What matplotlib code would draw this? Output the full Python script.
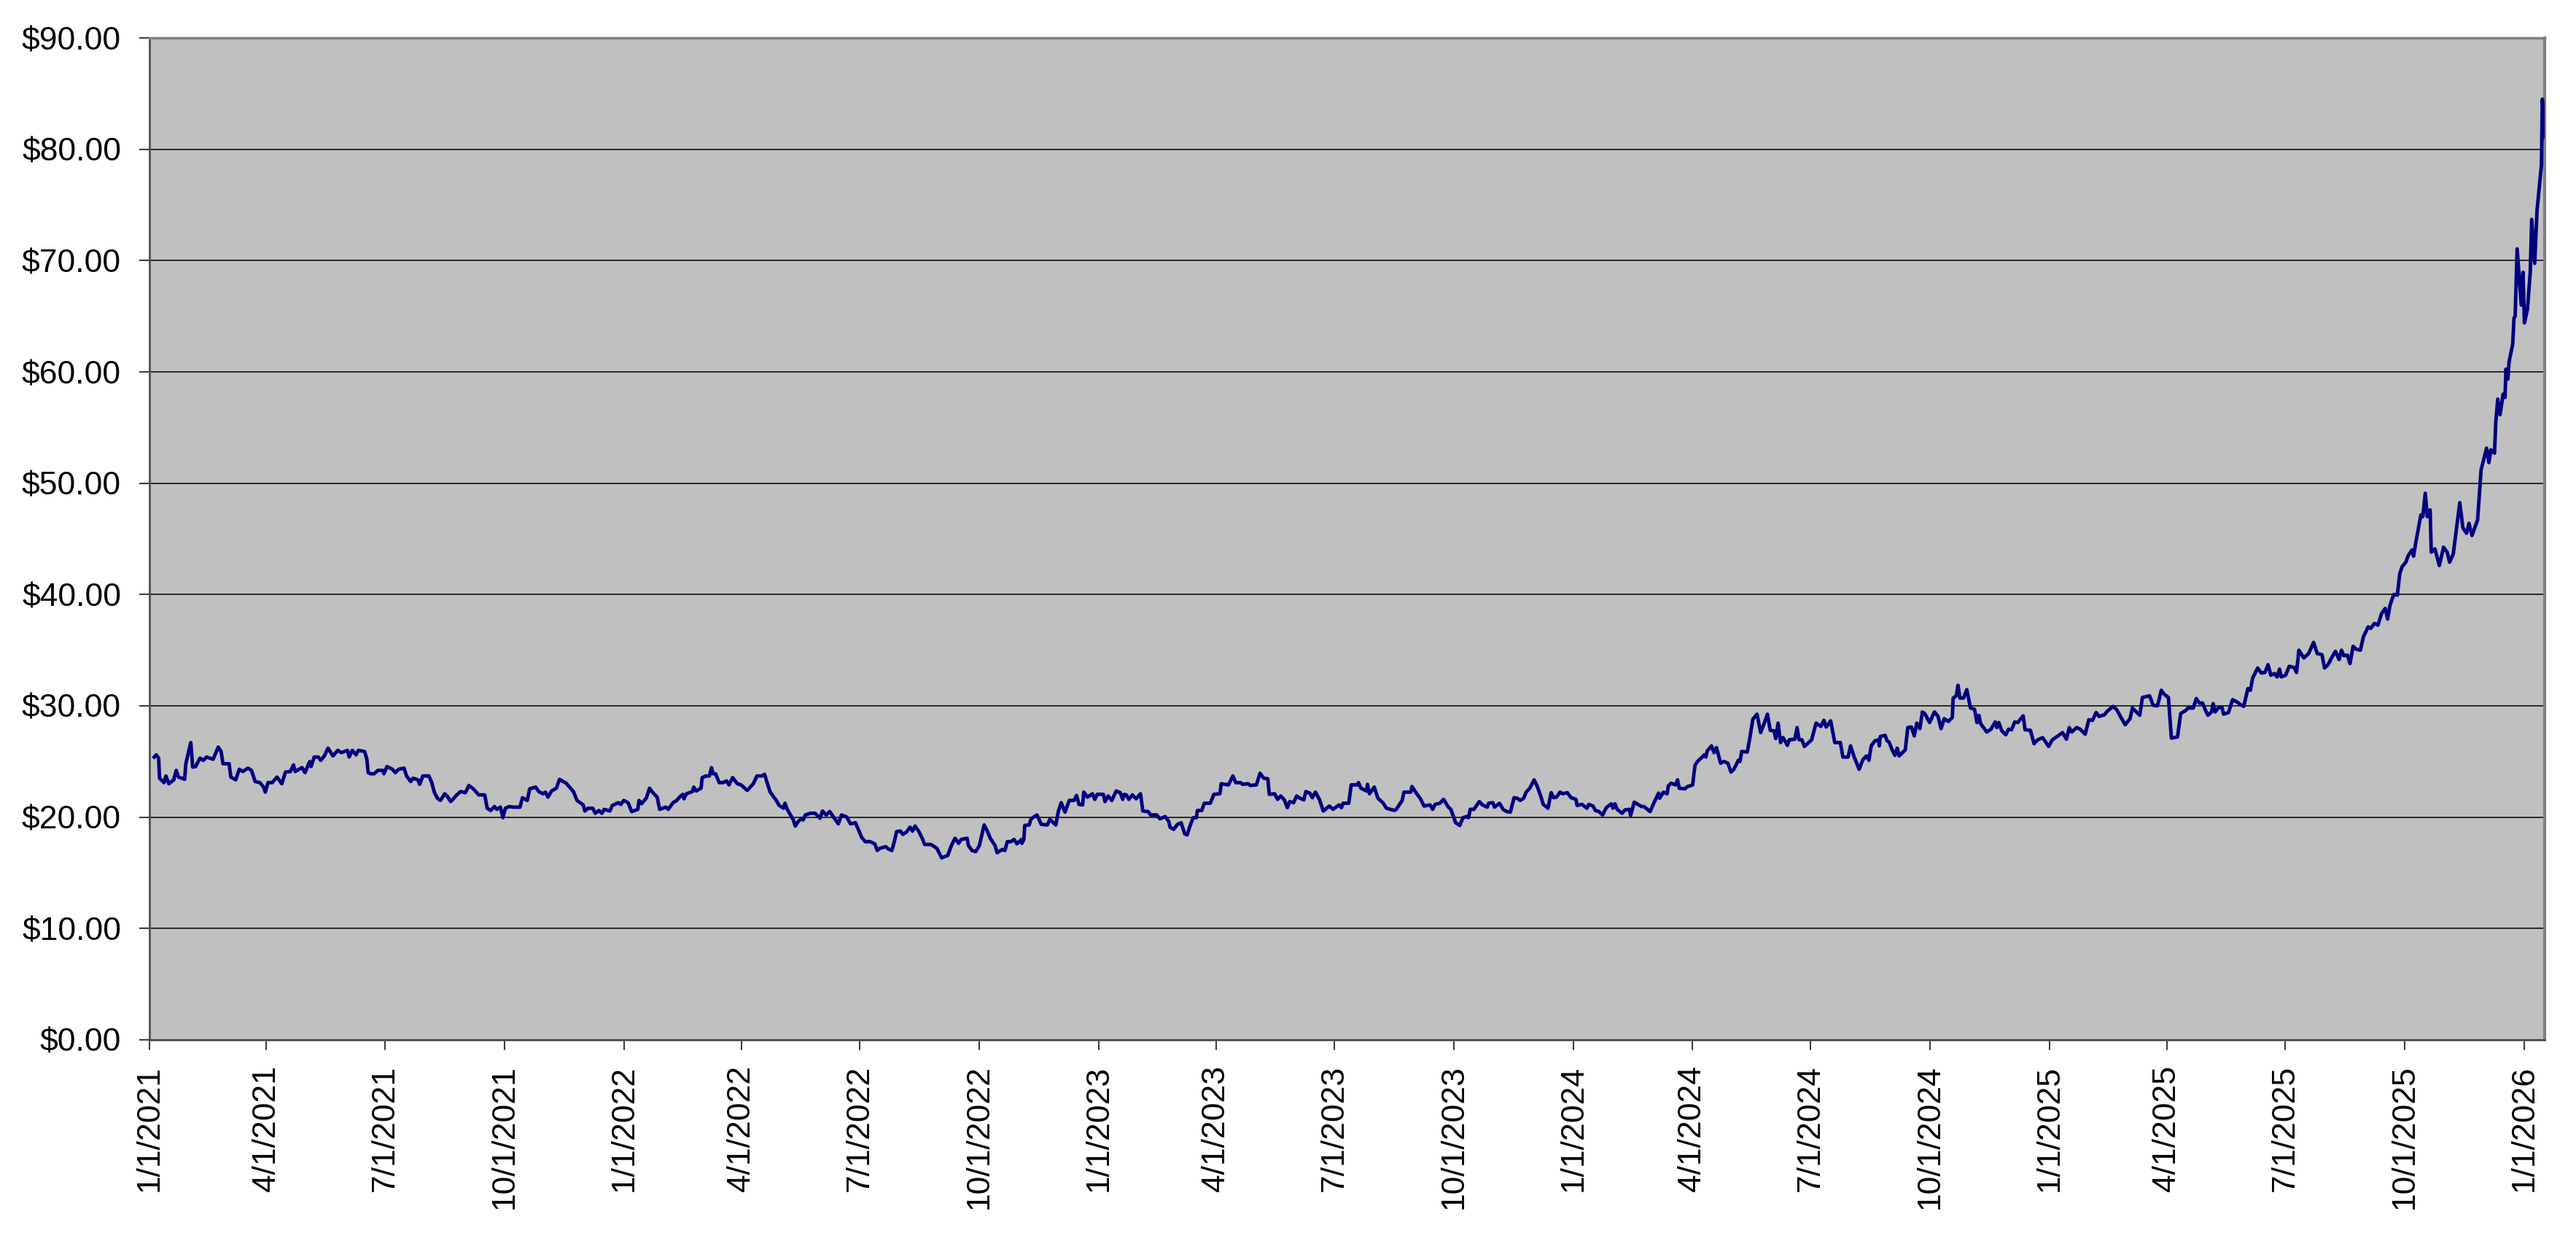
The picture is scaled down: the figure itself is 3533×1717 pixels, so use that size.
import matplotlib
matplotlib.use("Agg")
import matplotlib.pyplot as plt
import matplotlib.dates as mdates
import matplotlib.ticker as mticker
import numpy as np

plt.rcParams['font.family'] = ['Liberation Sans', 'DejaVu Sans']

# days counted from 1/1/2021, and closing price in dollars
day_offset = [
    3.7, 5.2, 7.1, 7.8, 11.2, 12.7, 14.9, 18.7, 20.6, 22.4, 27.1, 28.0, 31.8, 33.3, 35.5, 38.9,
    41.5, 43.9, 49.0, 52.9, 55.1, 56.6, 61.3, 62.6, 66.3, 69.1, 71.9, 75.7, 78.5, 81.3, 85.0, 87.8,
    89.1, 91.2, 94.4, 98.1, 101.8, 104.6, 108.4, 110.8, 112.1, 117.3, 119.6, 123.3, 124.3, 126.7,
    129.9, 131.7, 134.5, 137.3, 141.1, 144.8, 147.6, 152.3, 153.6, 156.0, 158.8, 160.7, 165.4,
    167.2, 168.2, 170.0, 172.8, 175.6, 179.4, 180.3, 182.7, 186.8, 189.1, 191.5, 195.8, 197.7,
    200.9, 202.7, 206.5, 207.8, 210.2, 214.9, 217.1, 219.0, 221.4, 223.8, 227.0, 228.9, 231.7,
    236.4, 239.2, 242.9, 245.7, 249.4, 253.2, 257.8, 259.7, 262.5,
    265.3, 267.1, 269.9, 271.8, 273.7, 276.5, 280.2, 284.9, 286.8, 290.5, 292.4, 297.0, 299.3,
    302.6, 304.5, 306.4, 309.2, 312.9, 315.3, 320.4, 326.0, 328.8, 333.5, 334.8, 337.2, 340.9,
    342.8, 345.6, 347.9, 349.7, 354.0, 355.9, 360.6, 362.4, 364.7, 368.0, 370.8, 375.5, 376.4,
    378.3, 382.0, 384.5, 386.7, 390.4, 392.3, 397.0, 398.9, 402.6, 405.4, 407.6, 410.1, 411.0,
    412.9, 417.5, 418.5, 420.4, 424.1, 425.0, 427.8, 430.6, 432.1, 433.4, 435.3, 438.1, 440.9,
    443.7, 445.6, 448.4, 452.1, 454.9, 459.6, 464.3, 467.1, 470.8, 473.0, 474.5, 477.3, 482.0,
    484.2, 487.6, 488.6, 490.4, 495.1, 496.6, 498.8, 501.6, 502.6, 504.4, 508.2, 511.9, 515.6,
    517.5, 520.3, 523.1, 526.9,
    529.7, 532.1, 536.2, 539.0, 542.8, 545.6, 547.5, 550.3, 554.0, 557.7, 559.6, 561.5, 566.1,
    568.0, 570.8, 572.7, 574.5, 577.4, 579.2, 582.0, 584.8, 586.7, 588.6, 591.4, 594.2, 596.0,
    600.7, 602.2, 605.4, 609.1, 613.8, 616.6, 619.4, 622.2, 624.1, 628.7, 629.7, 632.5, 635.3,
    638.1, 641.8, 644.2, 646.5, 650.2, 651.7, 655.8, 657.7, 659.6, 662.4, 664.8, 667.0, 670.4,
    670.8, 672.3, 673.0, 676.4, 677.9, 679.2, 682.4, 685.7, 690.4, 692.3, 696.9, 698.8, 701.0,
    704.0, 707.2, 710.9, 712.8, 714.7, 717.5, 718.4, 721.2, 725.0, 726.9, 728.7, 733.4, 734.7,
    737.1, 739.9, 743.3, 746.4, 748.3, 749.3, 751.1, 753.0, 755.8, 758.6, 762.0, 763.8, 767.9,
    769.8, 774.5, 776.9, 781.0, 783.8, 784.7, 787.5, 790.4,
    793.2, 796.0, 797.9, 799.7, 802.5, 805.0, 805.7, 809.1, 811.0, 815.6, 818.4, 823.1, 824.0,
    829.6, 833.0, 835.2, 839.0, 840.5, 844.6, 846.5, 851.1, 853.9, 856.7, 859.9, 861.0, 865.1,
    867.4, 869.8, 872.6, 874.9, 876.7, 879.7, 882.0, 883.8, 887.6, 889.1, 892.2, 894.1, 896.5,
    899.7, 902.5, 907.2, 910.0, 914.7, 916.5, 917.8, 922.1, 924.0, 928.7, 929.6, 931.5, 935.8,
    936.5, 938.0, 941.7, 944.5, 948.3, 951.1, 957.1, 958.6, 963.2, 964.5, 969.8, 970.7, 973.5,
    977.2, 980.0, 984.7, 986.6, 988.5, 992.2, 995.0, 998.7, 1000.6, 1004.3, 1007.5, 1009.9,
    1012.7, 1014.2, 1015.5, 1018.3, 1022.5, 1024.9, 1028.6, 1029.6, 1032.9, 1034.2, 1038.0,
    1040.8, 1043.6, 1046.4, 1049.2, 1051.6, 1053.9,
    1056.6, 1058.5, 1061.3, 1064.6, 1066.9, 1069.7, 1071.6, 1075.3, 1077.7, 1079.6, 1081.8,
    1084.6, 1086.5, 1090.2, 1093.0, 1096.8, 1097.7, 1101.4, 1105.2, 1106.7, 1109.9, 1111.7,
    1114.5, 1117.3, 1120.1, 1123.9, 1125.2, 1126.7, 1128.5, 1132.3, 1134.5, 1137.9, 1138.8,
    1141.6, 1147.2, 1149.1, 1153.8, 1156.6, 1160.3, 1161.2, 1164.0, 1166.9, 1167.8, 1170.0,
    1173.4, 1174.9, 1176.2, 1180.5, 1182.7, 1186.5, 1188.3, 1190.2, 1193.9, 1195.4, 1196.7,
    1197.7, 1201.0, 1202.9, 1204.8, 1208.0, 1210.4, 1213.6, 1216.0, 1218.2, 1221.6, 1222.9,
    1224.2, 1228.5, 1230.4, 1232.8, 1236.0, 1238.8, 1241.6, 1244.0, 1246.2, 1249.1, 1250.4,
    1252.2, 1254.1, 1256.0, 1257.5, 1259.3, 1260.8, 1265.0, 1266.8, 1268.3, 1270.5, 1272.4,
    1278.0, 1281.4, 1285.1, 1287.4, 1289.2, 1292.6, 1295.8, 1300.1, 1302.0, 1306.0, 1307.9,
    1310.7, 1314.5, 1317.3,
    1320.1, 1322.0, 1323.8, 1326.6, 1329.4, 1330.0, 1330.8, 1334.5, 1336.0, 1337.5, 1339.7,
    1342.0, 1343.8, 1345.3, 1350.0, 1351.9, 1354.7, 1356.9, 1358.8, 1361.2, 1363.1, 1365.0,
    1368.7, 1372.4, 1375.2, 1377.5, 1379.9, 1383.1, 1386.1, 1386.8, 1389.2, 1390.5, 1392.0,
    1394.8, 1397.3, 1400.1, 1403.2, 1405.1, 1406.6, 1407.9, 1412.6, 1415.9, 1419.1, 1420.4,
    1421.9, 1424.2, 1427.2, 1429.4, 1431.7, 1434.1, 1436.5, 1440.6, 1442.1, 1446.2, 1449.0,
    1451.8, 1455.6, 1460.2, 1463.0, 1466.8, 1470.9, 1473.9, 1476.1, 1478.0, 1481.7, 1484.5,
    1488.3, 1491.1, 1493.9, 1496.7, 1498.9, 1503.2, 1505.1, 1509.8, 1512.6, 1515.4, 1519.1,
    1522.8, 1524.6, 1530.3, 1532.3, 1537.8, 1540.6, 1543.8, 1544.9, 1546.8, 1549.0, 1552.3,
    1554.6, 1559.3, 1561.7, 1565.8, 1567.3, 1571.4, 1573.7, 1576.1, 1578.5, 1580.8,
    1582.6, 1585.4, 1586.7, 1588.2, 1591.0, 1593.4, 1594.7, 1598.5, 1601.6, 1605.0, 1607.8,
    1610.2, 1613.4, 1615.3, 1617.1, 1620.9, 1623.7, 1626.5, 1628.9, 1631.1, 1633.9, 1635.8,
    1637.7, 1639.0, 1642.4, 1645.2, 1648.9, 1650.8, 1652.6, 1656.4, 1660.1, 1663.9, 1666.7,
    1670.4, 1672.3, 1675.1, 1677.9, 1680.7, 1683.5, 1685.3, 1687.2, 1690.0, 1691.9, 1694.3,
    1696.5, 1699.9, 1702.2, 1705.9, 1707.8, 1710.6, 1713.4, 1716.2, 1719.0, 1720.8, 1722.7,
    1725.5, 1728.3, 1730.2,
    1732.0, 1734.8, 1736.7, 1739.5, 1740.8, 1742.3, 1746.4, 1747.9, 1749.8, 1751.3, 1753.5,
    1754.4, 1757.2, 1760.6, 1763.8, 1766.6, 1768.5, 1771.3, 1776.3, 1778.7, 1781.5, 1783.4,
    1785.7, 1790.0, 1792.7, 1796.9, 1798.7, 1800.2, 1803.0, 1804.0, 1805.5, 1807.3, 1809.6,
    1811.1, 1811.8, 1813.3, 1814.2, 1817.0, 1818.0, 1818.9, 1820.4, 1823.6, 1824.9, 1826.0,
    1828.3, 1830.5, 1831.6, 1833.9, 1835.7, 1839.1, 1839.8, 1841.5,
]

price = [
    25.4, 25.6, 25.3, 23.5, 23.1, 23.7, 23.0, 23.35, 24.2, 23.6, 23.4, 24.8, 26.7, 24.5, 24.55, 25.3,
    25.1, 25.4, 25.2, 26.3, 25.9, 24.8, 24.8, 23.6, 23.35, 24.3, 24.1, 24.4, 24.2, 23.2, 23.1, 22.7,
    22.25, 23.1, 23.1, 23.6, 23.0, 24.05, 24.1, 24.7, 24.1, 24.45, 24.0, 25.0, 24.55, 25.4,
    25.4, 25.1, 25.5, 26.2, 25.5, 26.0, 25.8, 26.0, 25.4, 26.0, 25.6, 26.0, 25.9,
    25.2, 24.0, 23.9, 23.9, 24.2, 24.2, 23.9, 24.55, 24.3, 24.0, 24.3, 24.4, 23.7,
    23.2, 23.5, 23.35, 22.95, 23.7, 23.7, 23.1, 22.25, 21.7, 21.5, 22.1, 21.9, 21.4,
    22.0, 22.3, 22.2, 22.85, 22.5, 22.0, 22.0, 20.8, 20.6,
    20.95, 20.7, 20.9, 19.95, 20.8, 20.95, 20.9, 20.9, 21.75, 21.5, 22.55, 22.7, 22.3,
    22.1, 22.25, 21.8, 22.35, 22.6, 23.4, 23.05, 22.3, 21.5, 21.1, 20.55, 20.8, 20.8,
    20.35, 20.6, 20.35, 20.7, 20.55, 21.05, 21.3, 21.15, 21.5, 21.3, 20.5, 20.7, 21.5,
    21.2, 21.7, 22.6, 22.25, 21.8, 20.7, 20.9, 20.7, 21.3, 21.5, 21.8, 22.05, 21.65,
    22.1, 22.3, 22.7, 22.35, 22.6, 23.55, 23.7, 23.7, 24.45, 23.9, 23.9, 23.1, 23.1,
    23.25, 22.9, 23.55, 23.0, 22.9, 22.4, 23.0, 23.7, 23.7, 23.85, 23.25, 22.25, 21.5,
    21.05, 20.8, 21.25, 20.7, 19.75, 19.2, 19.6, 19.9, 19.75, 20.2, 20.35, 20.35, 19.9,
    20.55, 20.2, 20.5, 19.85,
    19.4, 20.2, 20.0, 19.4, 19.5, 18.75, 18.2, 17.8, 17.8, 17.6, 17.0, 17.2, 17.35,
    17.15, 17.0, 17.8, 18.7, 18.75, 18.45, 18.65, 19.1, 18.75, 19.2, 18.75, 18.1, 17.55,
    17.55, 17.45, 17.2, 16.35, 16.55, 17.45, 18.1, 17.65, 18.0, 18.1, 17.45, 17.0, 16.9,
    17.45, 19.3, 18.75, 18.1, 17.45, 16.8, 17.1, 17.0, 17.8, 17.8, 18.0, 17.6, 18.0,
    17.65, 18.0, 19.25, 19.3, 19.85, 19.95, 20.2, 19.35, 19.3, 19.8, 19.3, 20.5, 21.3,
    20.45, 21.5, 21.5, 21.95, 21.15, 21.1, 22.25, 21.8, 22.1, 21.6, 22.05, 22.05, 21.4,
    21.9, 21.5, 22.35, 22.2, 21.6, 22.05, 22.0, 21.6, 22.0, 21.65, 22.1, 20.55, 20.5,
    20.2, 20.2, 19.85, 20.05, 19.6, 19.1, 18.9, 19.35,
    19.5, 18.5, 18.4, 19.1, 19.95, 19.95, 20.6, 20.6, 21.25, 21.25, 22.05, 22.1, 23.0,
    22.9, 23.7, 23.1, 23.1, 22.95, 23.0, 22.85, 22.9, 23.95, 23.5, 23.45, 22.05, 22.1,
    21.6, 21.9, 21.55, 20.85, 21.4, 21.3, 21.9, 21.75, 21.55, 22.3, 22.15, 21.75, 22.25,
    21.55, 20.55, 21.0, 20.7, 21.1, 20.85, 21.25, 21.25, 22.9, 22.9, 23.1, 22.6, 22.35,
    22.95, 22.1, 22.7, 21.7, 21.3, 20.8, 20.6, 20.7, 21.5, 22.25, 22.25, 22.75, 22.25,
    21.65, 21.0, 21.1, 20.7, 21.15, 21.25, 21.6, 20.9, 20.7, 19.5, 19.25, 19.95,
    20.05, 19.95, 20.7, 20.7, 21.4, 21.1, 20.9, 21.25, 21.3, 20.9, 21.25,
    20.7, 20.5, 20.45, 21.75, 21.7, 21.5,
    21.7, 22.25, 22.6, 23.35, 22.8, 21.9, 21.15, 20.8, 22.2, 21.75, 21.8,
    22.25, 22.1, 22.2, 21.75, 21.6, 21.05, 21.15, 20.8, 21.15, 21.0, 20.6,
    20.5, 20.2, 20.85, 21.2, 20.8, 21.2, 20.7, 20.35, 20.65, 20.7, 20.15,
    21.35, 20.95, 20.95, 20.5, 21.25, 22.15, 21.7, 22.25, 22.1, 22.8, 23.05,
    22.9, 23.35, 22.6, 22.55, 22.75, 22.9, 24.65, 25.0, 25.4, 25.6, 25.4,
    25.95, 26.4, 25.8, 26.25, 24.85, 25.0, 24.85, 24.05, 24.3, 25.1, 25.0,
    25.9, 25.85, 27.05, 28.8, 29.25, 27.6, 28.45, 29.25, 27.8, 27.75, 27.05,
    28.45, 26.7, 27.15, 26.85, 26.45, 26.95, 27.0, 28.05, 26.95, 26.95, 26.35,
    26.95, 28.45, 28.15, 28.7, 28.1, 28.65, 26.7, 26.7, 25.4, 25.4, 26.4,
    25.4, 24.3, 25.15,
    25.5, 25.1, 26.4, 26.85, 26.95, 26.4, 27.25, 27.35, 26.85, 26.75, 26.1,
    25.55, 26.2, 25.5, 26.05, 28.05, 28.1, 27.3, 28.45, 27.95, 29.45, 29.3,
    28.5, 29.45, 29.05, 27.95, 28.85, 28.6, 28.95, 30.7, 30.9, 31.85, 30.7,
    30.7, 31.45, 29.8, 29.7, 28.5, 29.15, 28.4, 27.65, 27.9, 28.55, 28.05,
    28.5, 27.75, 27.4, 27.9, 27.85, 28.55, 28.5, 29.1, 27.85, 27.8, 26.6,
    26.95, 27.15, 26.35, 26.95, 27.25, 27.6, 27.0, 28.05, 27.65, 28.05, 27.9,
    27.45, 28.75, 28.7, 29.4, 29.05, 29.2, 29.5, 29.95, 29.65, 29.05, 28.3,
    28.85, 29.8, 29.15, 30.75, 30.9, 30.05, 30.0, 30.45, 31.4, 31.05, 30.75,
    27.1, 27.2, 29.3, 29.6, 29.8, 29.8, 30.65, 30.25, 30.25, 29.6,
    29.15, 29.45, 30.2, 29.45, 29.85, 29.9, 29.25, 29.4, 30.55, 30.35, 30.1,
    29.95, 31.55, 31.4, 32.5, 33.4, 32.95, 33.0, 33.7, 32.75, 32.9, 32.6,
    33.3, 32.6, 32.75, 33.55, 33.45, 33.0, 35.0, 34.3, 34.7, 35.7, 34.7,
    34.6, 33.4, 33.7, 34.35, 34.9, 34.15, 35.0, 34.5, 34.55, 33.8, 35.35,
    35.1, 35.0, 36.2, 37.1, 36.95, 37.4, 37.25, 38.3, 38.75, 37.8, 39.05,
    40.0, 39.95, 41.9,
    42.5, 42.9, 43.5, 44.0, 43.45, 44.55, 47.15, 47.0, 49.1, 47.0, 47.6,
    43.8, 44.1, 42.6, 44.25, 43.8, 42.9, 43.65, 48.25, 46.0, 45.5, 46.4,
    45.3, 46.7, 51.2, 53.15, 51.85, 53.0, 52.7, 55.5, 57.55, 56.15, 58.0,
    57.7, 60.25, 59.35, 60.9, 62.5, 64.85, 65.0, 71.05, 66.0, 68.95, 64.4,
    65.6, 68.95, 73.7, 69.75, 74.5, 78.6, 84.5, 81.1,
]

y_ticks = [0, 10, 20, 30, 40, 50, 60, 70, 80, 90]

start = mdates.date2num(np.datetime64('2021-01-01'))
x = start + np.array(day_offset)

fig = plt.figure(figsize=(35.33, 17.17), dpi=100)
ax = fig.add_axes([0.058, 0.1695, 0.9298, 0.8002])
ax.set_facecolor('#C0C0C0')

ax.plot(x, price, color='#000080', linewidth=3.5, solid_joinstyle='round', zorder=3)

ax.set_xlim(start, start + 1841.5)
ax.set_ylim(0, 90)
ax.set_yticks(y_ticks)
ax.yaxis.set_major_formatter(mticker.FuncFormatter(lambda v, pos: f'${v:.2f}'))

ax.xaxis.set_major_locator(mdates.MonthLocator(bymonth=[1, 4, 7, 10], bymonthday=1))

def date_label(v, pos):
    d = mdates.num2date(v)
    return f'{d.month}/{d.day}/{d.year}'

ax.xaxis.set_major_formatter(mticker.FuncFormatter(date_label))

ax.grid(axis='y', color='black', linewidth=1.1)
ax.set_axisbelow(True)

for lbl in ax.get_xticklabels():
    lbl.set_rotation(90)
    lbl.set_va('top')
    lbl.set_ha('center')

ax.tick_params(axis='y', direction='out', length=10, width=1.5, color='#404040',
               labelsize=32, pad=18)
ax.tick_params(axis='x', direction='out', length=10, width=1.5, color='#404040',
               labelsize=32, pad=15)

ax.spines['top'].set_color('#808080')
ax.spines['right'].set_color('#808080')
ax.spines['top'].set_linewidth(2.5)
ax.spines['right'].set_linewidth(3)
ax.spines['left'].set_color('#505050')
ax.spines['bottom'].set_color('#505050')
ax.spines['left'].set_linewidth(2)
ax.spines['bottom'].set_linewidth(2)

fig.savefig('out.png', dpi=100, facecolor='white')
